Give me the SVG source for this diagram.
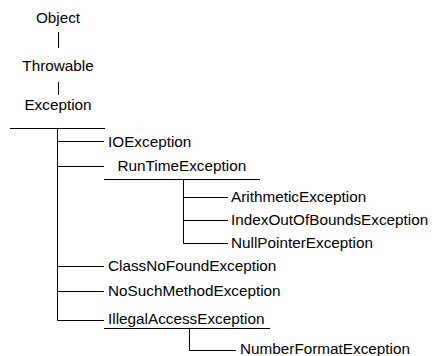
<svg xmlns="http://www.w3.org/2000/svg" width="435" height="356" viewBox="0 0 435 356">
  <style>
    .lbl { font-family: "Liberation Sans", Arial, sans-serif; font-size: 15.3px; fill: #000; }
    .mid { text-anchor: middle; }
    .ln { stroke: #000; stroke-width: 1; fill: none; }
  </style>
  <rect width="435" height="356" fill="#fff"/>

  <!-- connectors: trunk lines, rules under parent classes and branch elbows -->
  <g id="connectors" class="ln">
    <path d="M58.5 32 V48"/>
    <path d="M58.5 82 V95"/>
    <path d="M10 128.5 H105"/>
    <path d="M57.5 128.5 V320.5"/>
    <path d="M57.5 141.5 H104"/>
    <path d="M57.5 166.5 H104"/>
    <path d="M57.5 266.5 H104"/>
    <path d="M57.5 291.5 H104"/>
    <path d="M57.5 320.5 H104"/>
    <path d="M104 179.5 H260"/>
    <path d="M183.5 179.5 V243.5"/>
    <path d="M183.5 197.5 H228"/>
    <path d="M183.5 220.5 H228"/>
    <path d="M183.5 243.5 H228"/>
    <path d="M104 328.5 H270"/>
    <path d="M189.5 328.5 V350.5 H236"/>
  </g>

  <g id="object"><text class="lbl mid" x="58" y="23">Object</text></g>
  <g id="throwable"><text class="lbl mid" x="58" y="71">Throwable</text></g>
  <g id="exception"><text class="lbl mid" x="58" y="110">Exception</text></g>
  <g id="ioexception"><text class="lbl" x="108" y="147">IOException</text></g>
  <g id="runtimeexception"><text class="lbl" x="117.5" y="171">RunTimeException</text></g>
  <g id="arithmeticexception"><text class="lbl" x="231" y="202">ArithmeticException</text></g>
  <g id="indexoutofboundsexception"><text class="lbl" x="231" y="225">IndexOutOfBoundsException</text></g>
  <g id="nullpointerexception"><text class="lbl" x="231" y="248">NullPointerException</text></g>
  <g id="classnofoundexception"><text class="lbl" x="108" y="271">ClassNoFoundException</text></g>
  <g id="nosuchmethodexception"><text class="lbl" x="108" y="296">NoSuchMethodException</text></g>
  <g id="illegalaccessexception"><text class="lbl" x="108" y="324">IllegalAccessException</text></g>
  <g id="numberformatexception"><text class="lbl" x="240" y="354">NumberFormatException</text></g>
</svg>
